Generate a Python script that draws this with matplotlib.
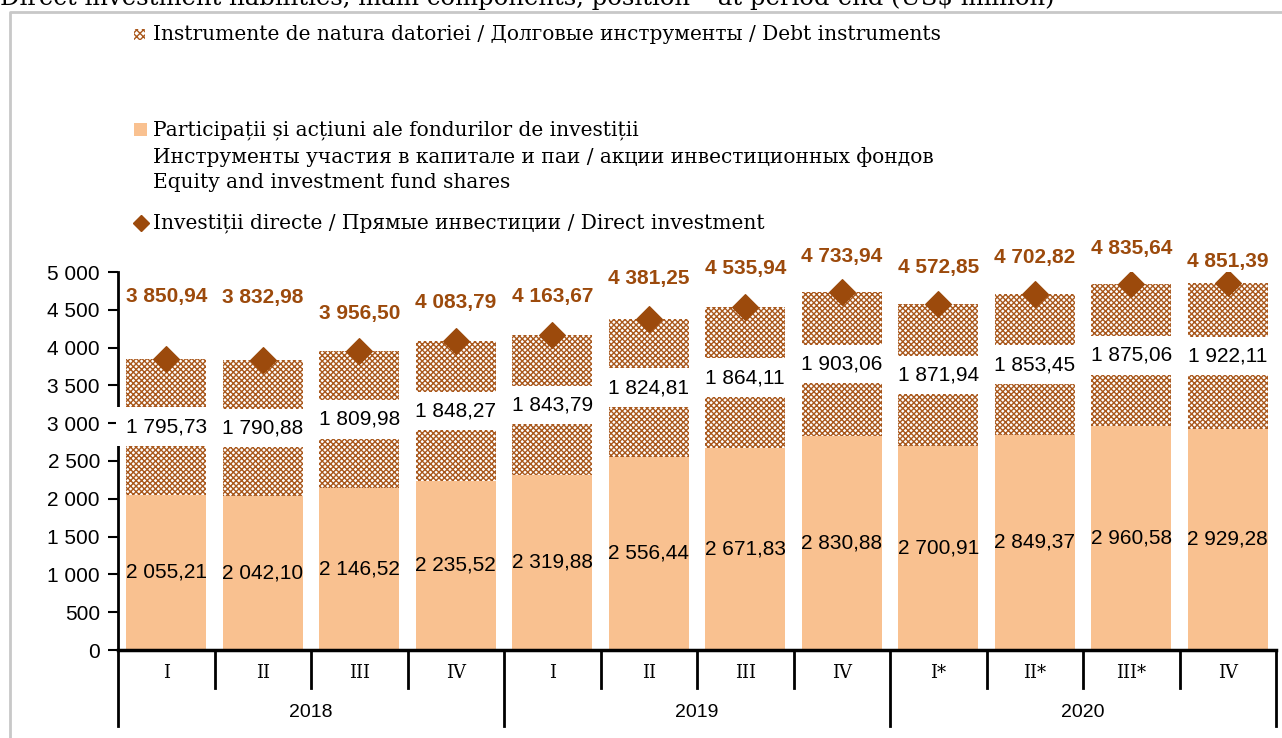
import numpy as np
import matplotlib.pyplot as plt
from matplotlib.patches import Rectangle
from matplotlib.lines import Line2D

# data (US$ million)
quarters = ['I', 'II', 'III', 'IV', 'I', 'II', 'III', 'IV', 'I*', 'II*', 'III*', 'IV']
years = ['2018', '2019', '2020']
equity = [2055.21, 2042.10, 2146.52, 2235.52, 2319.88, 2556.44, 2671.83, 2830.88,
          2700.91, 2849.37, 2960.58, 2929.28]
debt = [1795.73, 1790.88, 1809.98, 1848.27, 1843.79, 1824.81, 1864.11, 1903.06,
        1871.94, 1853.45, 1875.06, 1922.11]
total = [3850.94, 3832.98, 3956.50, 4083.79, 4163.67, 4381.25, 4535.94, 4733.94,
         4572.85, 4702.82, 4835.64, 4851.39]
# vertical offsets of the total labels, in points
label_off = [38, 38, 20, 21, 21, 22, 21, 19, 20, 20, 19, 9]

brown = '#9C4A0C'
peach = '#F9C190'
sans = 'Liberation Sans'

def fmt(v, dec=2):
    s = f'{v:,.{dec}f}'
    return s.replace(',', ' ').replace('.', ',')

fig = plt.figure(figsize=(12.82, 7.38), dpi=100)
ax = fig.add_axes([118/1282, 1 - 650/738, (1276-118)/1282, (650-272)/738])

x = np.arange(len(quarters))
w = 0.83
ax.bar(x, equity, width=w, color=peach, edgecolor='none', zorder=2)
ax.bar(x, debt, bottom=equity, width=w, color='white', edgecolor='#A9581C',
       hatch='xxxxxx', linewidth=0, zorder=2)
ax.scatter(x, total, marker='D', s=170, color=brown, zorder=4)

for i in range(len(x)):
    ax.text(x[i], equity[i] / 2, fmt(equity[i]), ha='center', va='center',
            fontsize=15, family=sans, zorder=5)
    ax.text(x[i], equity[i] + debt[i] / 2, fmt(debt[i]), ha='center', va='center',
            fontsize=15, family=sans, zorder=5,
            bbox=dict(facecolor='white', edgecolor='none', pad=7))
    ax.annotate(fmt(total[i]), (x[i], total[i]), xytext=(0, label_off[i]),
                textcoords='offset points', ha='center', va='bottom',
                fontsize=15, family=sans, fontweight='bold', color=brown, zorder=5)

ax.set_xlim(-0.5, 11.5)
ax.set_ylim(0, 5000)
ax.set_yticks(np.arange(0, 5001, 500))
ax.set_yticklabels([fmt(v, 0) for v in np.arange(0, 5001, 500)], fontsize=15, family=sans)
ax.tick_params(axis='y', length=7, width=1.5, direction='out', pad=6)
ax.set_xticks([])
for s in ['top', 'right']:
    ax.spines[s].set_visible(False)
ax.spines['left'].set_linewidth(2)
ax.spines['bottom'].set_linewidth(2.5)

# two-level category axis
trans = ax.get_xaxis_transform()
for k in range(len(x) + 1):
    depth = -0.1 if k % 4 else -0.2
    ax.add_line(Line2D([k - 0.5, k - 0.5], [0, depth], transform=trans,
                       color='black', lw=2, clip_on=False))
for i, q in enumerate(quarters):
    ax.text(x[i], -0.06, q, transform=trans, ha='center', va='center',
            fontsize=13, family='DejaVu Serif')
for j, yr in enumerate(years):
    ax.text(4 * j + 1.5, -0.165, yr, transform=trans, ha='center', va='center',
            fontsize=14, family=sans)

# legend drawn by hand
leg_font = dict(fontsize=14.5, family='DejaVu Serif', va='center')
fig.patches.append(Rectangle((134/1282, 1 - 40/738), 11/1282, 11/738,
                             transform=fig.transFigure, facecolor='white',
                             edgecolor='#A9581C', hatch='xxxxx', lw=0))
fig.text(153/1282, 1 - 34/738, 'Instrumente de natura datoriei / Долговые инструменты / Debt instruments', **leg_font)
fig.patches.append(Rectangle((134/1282, 1 - 136/738), 13/1282, 13/738,
                             transform=fig.transFigure, facecolor=peach, lw=0))
fig.text(153/1282, 1 - 130/738, 'Participații și acțiuni ale fondurilor de investiții', **leg_font)
fig.text(153/1282, 1 - 157/738, 'Инструменты участия в капитале и паи / акции инвестиционных фондов', **leg_font)
fig.text(153/1282, 1 - 183/738, 'Equity and investment fund shares', **leg_font)
fig.lines.append(Line2D([141/1282], [1 - 223/738], marker='D', markersize=8,
                        color=brown, transform=fig.transFigure))
fig.text(153/1282, 1 - 223/738, 'Investiții directe / Прямые инвестиции / Direct investment', **leg_font)

# title cut at top, and chart frame
fig.text(0.0, 1 + 2/738, 'Direct investment liabilities, main components, position – at period-end (US$ million)',
         fontsize=17.5, family='DejaVu Serif', va='center', ha='left')
fig.lines.append(Line2D([10/1282, 10/1282, 1], [0, 1 - 12/738, 1 - 12/738],
                        color='#C8C8C8', lw=2, transform=fig.transFigure))

fig.savefig('out.png', dpi=100)
